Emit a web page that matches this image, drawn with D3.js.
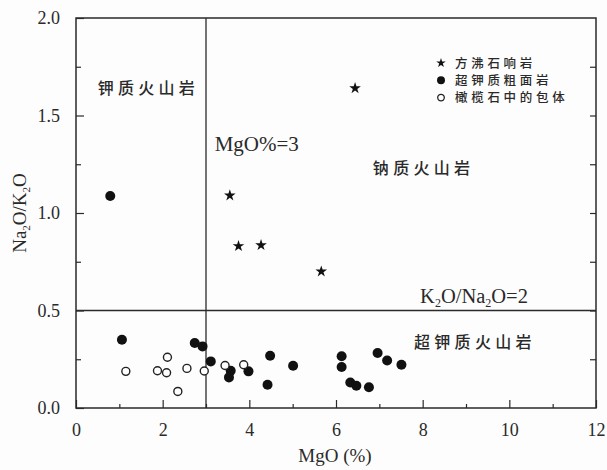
<!DOCTYPE html>
<html lang="zh">
<head>
<meta charset="utf-8">
<title>MgO - Na2O/K2O</title>
<script src="https://cdn.jsdelivr.net/npm/d3@7"></script>
<style>
  body { margin: 0; background: #fdfdfd; }
  svg { display: block; }
  .serif { font-family: "Liberation Serif", "DejaVu Serif", serif; fill: #2a2a2a; }
  .cjk { font-family: "Noto Sans CJK SC", sans-serif; fill: #2a2a2a; font-weight: 500; }
</style>
</head>
<body>
<div id="chart"></div>
<script>
// 方沸石响岩
var starMgO   = [6.44, 3.55, 3.75, 4.27, 5.66];
var starRatio = [1.64, 1.09, 0.83, 0.835, 0.70];
// 超钾质粗面岩
var dotMgO   = [0.79, 1.06, 2.74, 2.92, 3.11, 3.57, 3.53, 3.98, 4.48, 4.42, 5.01, 6.13, 6.13, 6.33, 6.47, 6.76, 6.96, 7.18, 7.51];
var dotRatio = [1.087, 0.35, 0.333, 0.316, 0.239, 0.191, 0.157, 0.188, 0.268, 0.119, 0.217, 0.265, 0.21, 0.131, 0.114, 0.106, 0.282, 0.244, 0.222];
// 橄榄石中的包体
var ringMgO   = [1.15, 1.88, 2.09, 2.11, 2.35, 2.56, 2.96, 3.44, 3.87];
var ringRatio = [0.188, 0.191, 0.181, 0.26, 0.085, 0.203, 0.19, 0.218, 0.222];

var xTicks = [0, 2, 4, 6, 8, 10, 12];
var yTicks = [0, 0.5, 1.0, 1.5, 2.0];
var legendNames = ["方沸石响岩", "超钾质粗面岩", "橄榄石中的包体"];
var fieldNames = ["钾质火山岩", "钠质火山岩", "超钾质火山岩"];

var W = 607, H = 470;
var margin = {top: 18, right: 11, bottom: 62, left: 76};
var ink = "#2a2a2a";

var svg = d3.select("#chart").append("svg").attr("width", W).attr("height", H);
var g = svg.append("g").attr("transform", "translate(" + margin.left + "," + margin.top + ")");
var w = W - margin.left - margin.right, h = H - margin.top - margin.bottom;

var x = d3.scaleLinear().domain([0, 12]).range([0, w]);
var y = d3.scaleLinear().domain([0, 2]).range([h, 0]);

// ticks, inward; minor ones shorter
function styleAxis(sel) {
  sel.select(".domain").remove();
  sel.selectAll("line").attr("stroke", ink).attr("stroke-width", 1.2);
  sel.selectAll("text").attr("class", "serif").style("font-size", "18px").attr("fill", ink);
}
g.append("g").attr("transform", "translate(0," + h + ")")
  .call(d3.axisBottom(x).tickValues(xTicks).tickSize(-8).tickPadding(15).tickFormat(d3.format("d")))
  .call(styleAxis);
g.append("g").attr("transform", "translate(0," + h + ")")
  .call(d3.axisBottom(x).tickValues(d3.range(1, 12, 2)).tickSize(-4).tickFormat(""))
  .call(styleAxis);
g.append("g")
  .call(d3.axisLeft(y).tickValues(yTicks).tickSize(-8).tickPadding(16).tickFormat(d3.format(".1f")))
  .call(styleAxis);
g.append("g")
  .call(d3.axisLeft(y).tickValues([0.25, 0.75, 1.25, 1.75]).tickSize(-5).tickFormat(""))
  .call(styleAxis);
g.append("g").attr("transform", "translate(" + w + ",0)")
  .call(d3.axisRight(y).tickValues(d3.range(0.25, 2, 0.25)).tickSize(-6).tickFormat(""))
  .call(styleAxis);

// frame
g.append("rect").attr("width", w).attr("height", h)
  .attr("fill", "none").attr("stroke", ink).attr("stroke-width", 1.5);

// divider lines
g.append("line").attr("x1", x(3)).attr("x2", x(3)).attr("y1", y(0)).attr("y2", y(2))
  .attr("stroke", ink).attr("stroke-width", 1.3);
g.append("line").attr("x1", x(0)).attr("x2", x(12)).attr("y1", y(0.5)).attr("y2", y(0.5))
  .attr("stroke", ink).attr("stroke-width", 1.3);

// axis titles
svg.append("text").attr("class", "serif").attr("x", margin.left + x(6) - 1).attr("y", 462)
  .attr("text-anchor", "middle").style("font-size", "19px").text("MgO (%)");
var yt = svg.append("text").attr("class", "serif").attr("text-anchor", "middle")
  .attr("transform", "translate(26," + (margin.top + y(1.0)) + ") rotate(-90)")
  .style("font-size", "19px");
yt.append("tspan").text("Na");
yt.append("tspan").attr("dy", 4).style("font-size", "11px").text("2");
yt.append("tspan").attr("dy", -4).text("O/K");
yt.append("tspan").attr("dy", 4).style("font-size", "11px").text("2");
yt.append("tspan").attr("dy", -4).text("O");

// field labels
var fieldPos = [[0.5, 1.61], [6.85, 1.2], [7.8, 0.31]];
g.selectAll(".field").data(fieldNames).enter().append("text")
  .attr("class", "cjk").attr("x", function (d, i) { return x(fieldPos[i][0]); })
  .attr("y", function (d, i) { return y(fieldPos[i][1]); })
  .style("font-size", "16px").style("letter-spacing", "4.3px").text(function (d) { return d; });

g.append("text").attr("class", "serif").attr("x", x(3.2)).attr("y", y(1.32))
  .style("font-size", "21px").text("MgO%=3");
var kt = g.append("text").attr("class", "serif").attr("x", x(7.94)).attr("y", y(0.54))
  .style("font-size", "20.5px");
kt.append("tspan").text("K");
kt.append("tspan").attr("dy", 4).style("font-size", "12px").text("2");
kt.append("tspan").attr("dy", -4).text("O/Na");
kt.append("tspan").attr("dy", 4).style("font-size", "12px").text("2");
kt.append("tspan").attr("dy", -4).text("O=2");

// points
var star = d3.symbol().type(d3.symbolStar).size(42);
g.selectAll(".star").data(starMgO).enter().append("path")
  .attr("d", star).attr("fill", "#111")
  .attr("transform", function (d, i) { return "translate(" + x(d) + "," + y(starRatio[i]) + ")"; });
g.selectAll(".dot").data(dotMgO).enter().append("circle")
  .attr("cx", function (d) { return x(d); }).attr("cy", function (d, i) { return y(dotRatio[i]); })
  .attr("r", 5).attr("fill", "#111");
g.selectAll(".ring").data(ringMgO).enter().append("circle")
  .attr("cx", function (d) { return x(d); }).attr("cy", function (d, i) { return y(ringRatio[i]); })
  .attr("r", 4).attr("fill", "#fff").attr("stroke", "#222").attr("stroke-width", 1.4);

// legend
var lg = svg.append("g").attr("transform", "translate(441,63)");
var row = lg.selectAll("g").data(legendNames).enter().append("g")
  .attr("transform", function (d, i) { return "translate(0," + (i * 17.3) + ")"; });
row.each(function (d, i) {
  var s = d3.select(this);
  if (i === 0) s.append("path").attr("d", d3.symbol().type(d3.symbolStar).size(28)).attr("fill", "#111");
  else if (i === 1) s.append("circle").attr("r", 4).attr("fill", "#111");
  else s.append("circle").attr("r", 3.3).attr("fill", "#fff").attr("stroke", "#222").attr("stroke-width", 1.3);
});
row.append("text").attr("class", "cjk").attr("x", 14).attr("y", 4.5)
  .style("font-size", "12.5px").style("letter-spacing", "3.7px").text(function (d) { return d; });
</script>
</body>
</html>
